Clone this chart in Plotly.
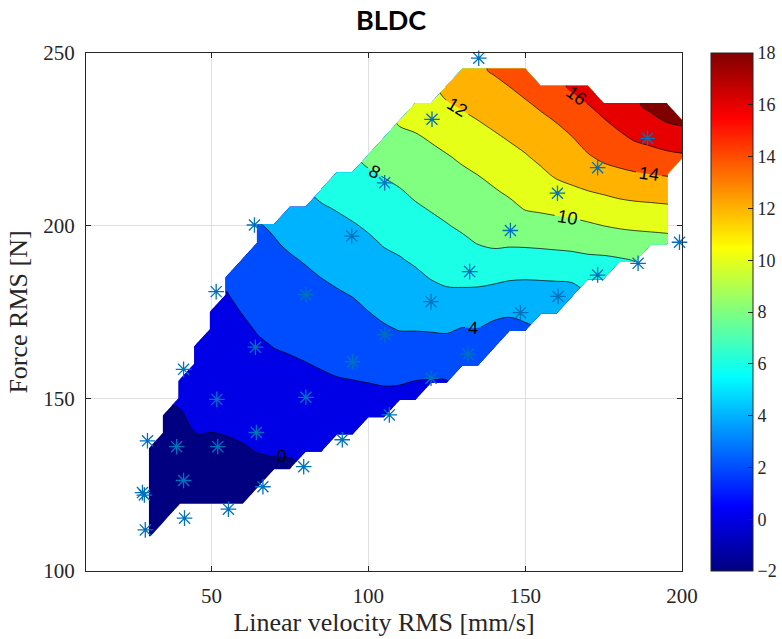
import numpy as np
import plotly.graph_objects as go

N = None

# grid of the interpolated map
x_grid = list(range(30, 201, 5))      # Linear velocity RMS [mm/s]
y_grid = list(range(110, 251, 5))     # Force RMS [N]

# z values, one list per x column (bottom -> top, y = 110 ... 250)
z_cols = [
    [-1.6, -1.45, -1.3, -1.15, -1.0, -0.85] + [N]*23,                                   # x=30
    [N, -1.4, -1.25, -1.1, -0.95, -0.75, -0.5, -0.25] + [N]*21,                         # x=35
    [N]*2 + [-1.2, -1.05, -0.85, -0.65, -0.4, -0.1, 0.15, 0.4] + [N]*19,                # x=40
    [N]*2 + [-1.0, -0.8, -0.55, -0.3, 0.0, 0.25, 0.5, 0.75, 1.0, 1.25] + [N]*17,        # x=45
    [N]*2 + [-0.95, -0.75, -0.5, -0.25, -0.01, 0.25, 0.5, 0.75, 0.98, 1.2, 1.45, 1.7] + [N]*15,  # x=50
    [N]*2 + [-0.85, -0.65, -0.42, -0.2, 0.05, 0.29, 0.53, 0.76, 1.0, 1.24, 1.48, 1.71, 1.95, 2.24] + [N]*13,  # x=55
    [N]*2 + [-0.75, -0.55, -0.35, -0.1, 0.16, 0.43, 0.7, 0.97, 1.23, 1.5, 1.77, 2.05, 2.4, 2.75, 3.05] + [N]*12,  # x=60
    [N]*3 + [-0.5, -0.25, 0.06, 0.35, 0.64, 0.94, 1.23, 1.52, 1.81, 2.11, 2.41, 2.71, 3.01, 3.31, 3.61, 3.91] + [N]*10,  # x=65
    [N]*4 + [-0.2, 0.11, 0.43, 0.75, 1.07, 1.39, 1.71, 2.03, 2.34, 2.65, 2.96, 3.27, 3.58, 3.89, 4.2] + [N]*10,  # x=70
    [N]*4 + [-0.2, 0.14, 0.47, 0.81, 1.15, 1.49, 1.82, 2.16, 2.49, 2.83, 3.16, 3.5, 3.83, 4.25, 4.74, 5.23] + [N]*9,  # x=75
    [N]*5 + [0.17, 0.53, 0.89, 1.24, 1.6, 1.96, 2.32, 2.67, 3.02, 3.38, 3.73, 4.11, 4.57, 5.03, 5.49] + [N]*9,  # x=80
    [N]*5 + [0.25, 0.63, 1.0, 1.38, 1.75, 2.13, 2.5, 2.88, 3.26, 3.63, 4.01, 4.46, 4.92, 5.37, 5.83, 6.35] + [N]*8,  # x=85
    [N]*6 + [0.74, 1.12, 1.51, 1.9, 2.29, 2.67, 3.06, 3.45, 3.84, 4.26, 4.71, 5.17, 5.62, 6.09, 6.66, 7.23] + [N]*7,  # x=90
    [N]*6 + [0.71, 1.13, 1.55, 1.97, 2.38, 2.8, 3.22, 3.64, 4.06, 4.52, 4.97, 5.42, 5.87, 6.4, 6.96, 7.51] + [N]*7,  # x=95
    [N]*7 + [1.08, 1.57, 2.05, 2.53, 3.01, 3.5, 3.98, 4.42, 4.86, 5.29, 5.73, 6.2, 6.74, 7.27, 7.8, 8.42] + [N]*6,  # x=100
    [N]*7 + [1.14, 1.6, 2.16, 2.72, 3.27, 3.83, 4.31, 4.76, 5.21, 5.66, 6.12, 6.61, 7.11, 7.6, 8.12, 8.73, 9.33] + [N]*5,  # x=105
    [N]*8 + [1.53, 2.14, 2.79, 3.44, 4.06, 4.52, 4.97, 5.43, 5.88, 6.37, 6.88, 7.38, 7.89, 8.44, 9.0, 9.57, 10.15] + [N]*4,  # x=110
    [N]*8 + [1.3, 1.98, 2.7, 3.4, 4.07, 4.6, 5.14, 5.68, 6.21, 6.74, 7.26, 7.79, 8.3, 8.79, 9.28, 9.77, 10.37, 11.05] + [N]*3,  # x=115
    [N]*9 + [1.93, 2.66, 3.4, 4.12, 4.78, 5.45, 6.08, 6.59, 7.1, 7.6, 8.11, 8.6, 9.09, 9.59, 10.11, 10.78, 11.45] + [N]*3,  # x=120
    [N]*9 + [1.97, 2.7, 3.43, 4.18, 4.95, 5.71, 6.33, 6.86, 7.39, 7.92, 8.41, 8.91, 9.4, 9.89, 10.52, 11.19, 11.85, 12.49] + [N]*2,  # x=125
    [N]*10 + [2.41, 3.16, 3.91, 4.79, 5.69, 6.42, 7.06, 7.69, 8.25, 8.74, 9.23, 9.72, 10.28, 10.93, 11.58, 12.21, 12.8, 13.39] + [N],  # x=130
    [N]*10 + [2.43, 3.18, 3.93, 4.77, 5.62, 6.46, 7.29, 8.07, 8.56, 9.05, 9.54, 10.04, 10.67, 11.3, 11.94, 12.54, 13.15, 13.76] + [N],  # x=135
    [N]*11 + [2.69, 3.54, 4.44, 5.39, 6.38, 7.45, 8.26, 8.79, 9.33, 9.86, 10.45, 11.08, 11.7, 12.32, 12.94, 13.56, 14.17] + [N],  # x=140
    [N]*12 + [3.37, 4.28, 5.21, 6.18, 7.27, 8.23, 8.92, 9.6, 10.26, 10.87, 11.48, 12.09, 12.72, 13.35, 13.97, 14.6] + [N],  # x=145
    [N]*12 + [3.68, 4.48, 5.28, 6.11, 7.22, 8.28, 9.21, 10.09, 10.68, 11.28, 11.87, 12.5, 13.13, 13.77, 14.46, 15.19] + [N],  # x=150
    [N]*13 + [4.33, 5.23, 6.16, 7.28, 8.35, 9.33, 10.24, 10.97, 11.71, 12.37, 12.98, 13.59, 14.25, 15.0] + [N]*2,  # x=155
    [N]*13 + [4.36, 5.26, 6.21, 7.36, 8.44, 9.43, 10.42, 11.42, 12.25, 12.84, 13.43, 14.03, 14.81, 15.59] + [N]*2,  # x=160
    [N]*14 + [5.28, 6.32, 7.45, 8.53, 9.54, 10.61, 11.73, 12.52, 13.2, 13.88, 14.65, 15.43, 16.24] + [N]*2,  # x=165
    [N]*15 + [6.73, 7.65, 8.67, 9.76, 10.86, 11.98, 12.91, 13.85, 14.61, 15.28, 15.97, 16.79] + [N]*2,  # x=170
    [N]*15 + [6.72, 7.67, 8.84, 10.01, 11.11, 12.23, 13.4, 14.35, 15.09, 15.82, 16.61] + [N]*3,  # x=175
    [N]*16 + [7.83, 9.02, 10.21, 11.36, 12.51, 13.66, 14.65, 15.59, 16.43, 17.21] + [N]*3,  # x=180
    [N]*16 + [8.05, 9.18, 10.33, 11.51, 12.68, 13.86, 15.02, 16.13, 16.94, 17.76] + [N]*3,  # x=185
    [N]*17 + [9.26, 10.42, 11.6, 12.77, 14.02, 15.3, 16.45, 17.45, 18.44] + [N]*3,  # x=190
    [N]*17 + [9.34, 10.52, 11.69, 12.91, 14.17, 15.62, 16.72, 18.02, 19.2] + [N]*3,  # x=195
    [N]*22 + [15.75, 17.02, 18.28] + [N]*4,  # x=200
]

# measured operating points (asterisks)
pts_x = [135.2, 200.3, 120.3, 189.0, 173.1, 105.2, 160.3, 63.7, 145.3, 199.2, 94.7,
         186.0, 132.3, 173.1, 51.5, 80.1, 120.0, 160.5, 148.5, 105.3, 64.0, 131.8,
         95.0, 41.1, 120.0, 51.7, 80.1, 106.7, 29.6, 64.3, 38.9, 52.0, 91.7, 79.4,
         41.1, 28.0, 28.6, 66.4, 55.4, 41.4, 28.9]
pts_y = [248.5, 234.0, 230.8, 225.3, 216.8, 212.4, 209.4, 200.2, 198.6, 195.2, 197.0,
         189.1, 186.7, 185.7, 180.9, 180.0, 178.0, 179.5, 174.8, 168.4, 164.8, 162.8,
         160.6, 158.4, 155.8, 149.7, 150.3, 145.2, 137.7, 140.1, 136.0, 136.0, 138.0, 130.2,
         126.2, 122.7, 122.0, 124.4, 117.9, 115.3, 111.9]

x_ticks = [50, 100, 150, 200]
y_ticks = [100, 150, 200, 250]
cbar_ticks = list(range(-2, 19, 2))

for c in z_cols:
    assert len(c) == len(y_grid), len(c)
assert len(z_cols) == len(x_grid)

z = np.array(z_cols, dtype=float).T

jet = [[0.0, 'rgb(0,0,128)'], [0.125, 'rgb(0,0,255)'], [0.375, 'rgb(0,255,255)'],
       [0.625, 'rgb(255,255,0)'], [0.875, 'rgb(255,0,0)'], [1.0, 'rgb(128,0,0)']]

SERIF = 'Liberation Serif, Times New Roman, serif'
AX = '#262626'

fig = go.Figure()
fig.add_trace(go.Contour(
    x=x_grid, y=y_grid, z=z,
    colorscale=jet, autocontour=False, connectgaps=False,
    contours=dict(start=0, end=18, size=2, coloring='fill', showlabels=True,
                  labelfont=dict(family='Liberation Sans, Arial, sans-serif', size=18, color='black')),
    line=dict(color='black', width=0.7),
    showscale=False, hoverinfo='skip'))

fig.add_trace(go.Scatter(
    x=pts_x, y=pts_y, mode='markers', cliponaxis=False, showlegend=False,
    marker=dict(symbol='asterisk-open', size=13, color='rgb(0,114,189)',
                line=dict(color='rgb(0,114,189)', width=1.3))))

# continuous colorbar
fig.add_trace(go.Scatter(
    x=[None], y=[None], mode='markers', showlegend=False, hoverinfo='skip',
    marker=dict(color=[0], cmin=-2, cmax=18, colorscale=jet, showscale=True,
                colorbar=dict(thickness=42, thicknessmode='pixels', len=1, lenmode='fraction',
                              x=1.0487, xanchor='left', xpad=0, y=0.5, yanchor='middle', ypad=0,
                              outlinewidth=1, outlinecolor=AX, borderwidth=0,
                              tickvals=cbar_ticks, ticks='inside', ticklen=5, tickcolor=AX,
                              tickfont=dict(family=SERIF, size=18, color=AX)))))

axis_common = dict(showgrid=True, gridcolor='#e0e0e0', gridwidth=1, zeroline=False,
                   showline=True, linecolor=AX, linewidth=1, mirror='ticks',
                   ticks='inside', ticklen=5, tickcolor=AX, automargin=False,
                   tickfont=dict(family=SERIF, size=21, color=AX))

fig.update_layout(
    width=782, height=639,
    margin=dict(l=86, r=100, t=53, b=68, autoexpand=False),
    paper_bgcolor='white', plot_bgcolor='white',
    title=dict(text='<b>BLDC</b>', x=0.5, xref='container', xanchor='center',
               y=1 - 21/639, yref='container', yanchor='middle',
               font=dict(family='Lato, Open Sans, sans-serif', size=27, color='black')),
    xaxis=dict(range=[10, 200], tickvals=x_ticks, ticklabelstandoff=6,
               title=dict(text='Linear velocity RMS [mm/s]', standoff=4,
                          font=dict(family=SERIF, size=26, color=AX)),
               **axis_common),
    yaxis=dict(range=[100, 250], tickvals=y_ticks, ticklabelstandoff=6,
               title=dict(text='Force RMS [N]', standoff=8,
                          font=dict(family=SERIF, size=26, color=AX)),
               **axis_common),
)

fig.write_html('out.html', config={'displayModeBar': False},
               post_script="document.body.style.margin='0';document.body.style.padding='0';")
